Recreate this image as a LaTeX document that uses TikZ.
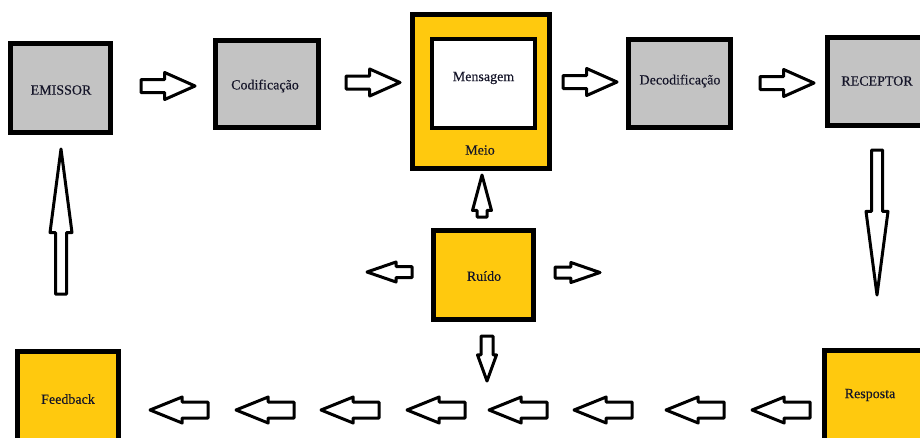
\documentclass[tikz,border=0pt]{standalone}
\usepackage{fontspec}
\setmainfont{Liberation Serif}
\newfontfamily\labelfont[FakeBold=0.3]{Liberation Serif}
\usetikzlibrary{shapes.arrows}
\definecolor{boxgray}{HTML}{C3C3C3}
\definecolor{boxgold}{HTML}{FFC90E}
\definecolor{labelink}{HTML}{141428}

\begin{document}
\begin{tikzpicture}[x=1pt,y=-1pt,
  font=\labelfont\fontsize{14}{16}\selectfont,
  stagebox/.style={draw=black, line width=5pt, inner sep=0pt},
  graybox/.style={stagebox, fill=boxgray},
  goldbox/.style={stagebox, fill=boxgold},
  lbl/.style={inner sep=0pt, text=labelink},
  blk/.style={single arrow, draw=black, fill=white, line width=3pt,
    line join=round, minimum width=0pt, anchor=tail},
  flatarrow/.style={blk, minimum height=54pt, inner sep=5pt,
    single arrow head extend=7pt, single arrow tip angle=48},
  backarrow/.style={blk, minimum height=58pt, inner sep=6.5pt,
    single arrow head extend=5pt, single arrow tip angle=44,
    shape border rotate=180},
  longarrow/.style={blk, minimum height=145pt, inner sep=4pt,
    single arrow head extend=5.5pt, single arrow tip angle=15},
  shortarrow/.style={blk, minimum height=45pt, inner sep=4pt,
    single arrow head extend=4.5pt, single arrow tip angle=38}
]
\useasboundingbox (0,0) rectangle (920,437);

% stage boxes of the upper row
\node[graybox, minimum width=100pt, minimum height=89pt] (emissor) at (60.5,88) {};
\node[lbl] at (61,90) {EMISSOR};
\node[graybox, minimum width=103pt, minimum height=87pt] (codif) at (267,84) {};
\node[lbl] at (265,86) {Codificação};
\node[goldbox, minimum width=137pt, minimum height=154pt] (meio) at (481,91.5) {};
\node[stagebox, line width=4pt, fill=white, minimum width=103pt, minimum height=89pt] (msg) at (483.5,83.5) {};
\node[lbl] (msgtext) at (483.5,78) {Mensagem};
\node[lbl] (meiotext) at (480,150) {Meio};
\node[graybox, minimum width=102pt, minimum height=88pt] (decod) at (679.5,83.5) {};
\node[lbl] at (680,81) {Decodificação};
\node[graybox, minimum width=100pt, minimum height=88pt] (receptor) at (877.5,81.5) {};
\node[lbl] at (877,81) {RECEPTOR};

% noise source
\node[goldbox, minimum width=100pt, minimum height=89pt] (ruido) at (483.5,275) {};
\node[lbl] at (484,276) {Ruído};

% lower row
\node[goldbox, minimum width=101pt, minimum height=90pt] (feedback) at (68,396.5) {};
\node[lbl] at (68,399) {Feedback};
\node[goldbox, minimum width=100pt, minimum height=90pt] (resposta) at (874.5,395) {};
\node[lbl] at (870,395) {Resposta};

% arrows along the upper row
\node[flatarrow] (a1) at (139.5,86) {};
\node[flatarrow] (a2) at (344.5,82.5) {};
\node[flatarrow] (a3) at (561.5,82) {};
\node[flatarrow] (a4) at (758.5,83) {};

% long vertical arrows
\node[longarrow, shape border rotate=270] (down) at (877,148.5) {};
\node[longarrow, shape border rotate=90] (up) at (61,295.5) {};

% arrows leaving the noise source
\node[shortarrow, shape border rotate=90, inner sep=3.5pt, minimum height=42pt,
  single arrow tip angle=30] (nup) at (482,218.5) {};
\node[shortarrow, shape border rotate=270, inner sep=4.5pt,
  single arrow head extend=3.5pt, single arrow tip angle=40] (ndown) at (487,334.5) {};
\node[shortarrow, shape border rotate=180] (nleft) at (413.5,272) {};
\node[shortarrow] (nright) at (553.5,272.5) {};

% return path towards the feedback box
\foreach \t [count=\i] in {211,297,382,468,550,635,727,813}
  \node[backarrow] (b\i) at (\t-1.5,410) {};
\end{tikzpicture}
\end{document}
